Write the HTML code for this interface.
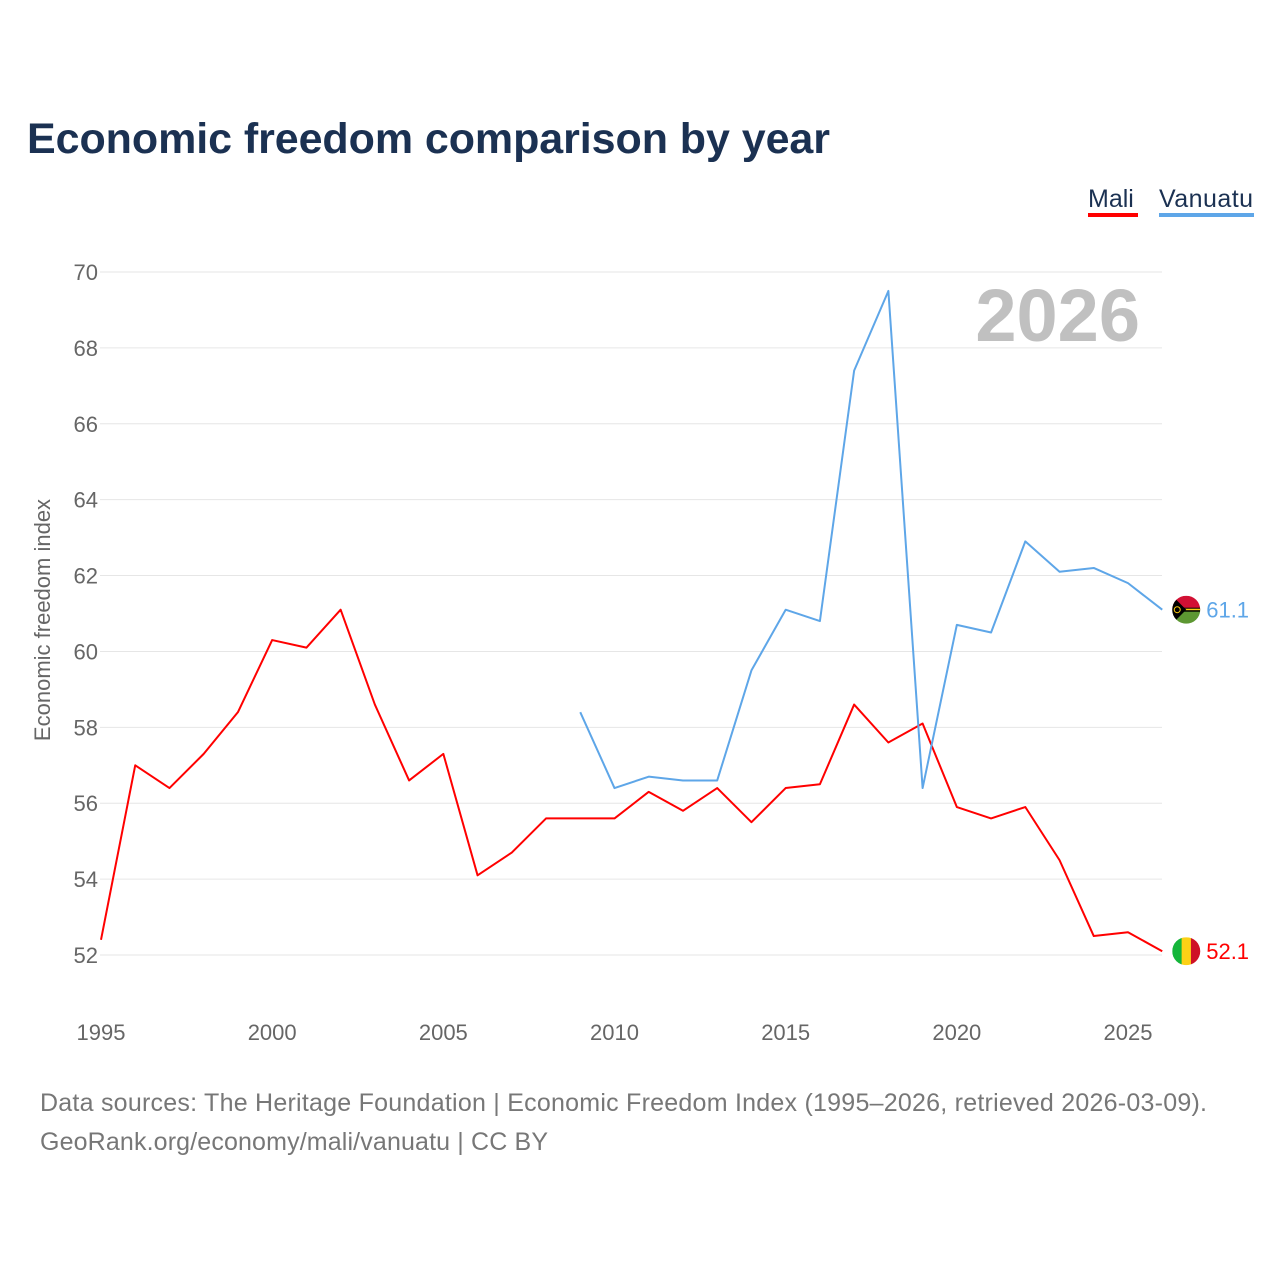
<!DOCTYPE html>
<html><head><meta charset="utf-8"><style>
body{margin:0;background:#fff;font-family:"Liberation Sans",sans-serif;}
svg text{font-family:"Liberation Sans",sans-serif;}
</style></head><body>
<svg id="chart" width="1280" height="1280" viewBox="0 0 1280 1280" xmlns="http://www.w3.org/2000/svg">
<rect width="1280" height="1280" fill="#fff"/>
<text x="27" y="153" font-size="43" font-weight="bold" fill="#1b3152" textLength="803">Economic freedom comparison by year</text>
<g>
<text x="1088" y="207" font-size="25" fill="#1b3152">Mali</text>
<rect x="1088" y="213" width="50" height="4" fill="#f00"/>
<text x="1159" y="207" font-size="25" fill="#1b3152" textLength="94">Vanuatu</text>
<rect x="1159" y="213" width="95" height="4" fill="#5ea6e8"/>
</g>
<text x="1140" y="341" font-size="74" font-weight="bold" fill="#c0c0c0" text-anchor="end">2026</text>
<text transform="translate(50,620) rotate(-90)" font-size="22" fill="#666" text-anchor="middle">Economic freedom index</text>
<g id="grid"></g><g id="yticks"></g><g id="xticks"></g><g id="series"></g>
<text x="40" y="1111" font-size="25" fill="#777" textLength="1167">Data sources: The Heritage Foundation | Economic Freedom Index (1995–2026, retrieved 2026-03-09).</text>
<text x="40" y="1150" font-size="25" fill="#777" textLength="508">GeoRank.org/economy/mali/vanuatu | CC BY</text>
</svg>
<script>
const yTicks=[52,54,56,58,60,62,64,66,68,70];
const xTicks=[1995,2000,2005,2010,2015,2020,2025];
const maliYears=[1995,1996,1997,1998,1999,2000,2001,2002,2003,2004,2005,2006,2007,2008,2009,2010,2011,2012,2013,2014,2015,2016,2017,2018,2019,2020,2021,2022,2023,2024,2025,2026];
const maliValues=[52.4,57.0,56.4,57.3,58.4,60.3,60.1,61.1,58.6,56.6,57.3,54.1,54.7,55.6,55.6,55.6,56.3,55.8,56.4,55.5,56.4,56.5,58.6,57.6,58.1,55.9,55.6,55.9,54.5,52.5,52.6,52.1];
const vanuatuYears=[2009,2010,2011,2012,2013,2014,2015,2016,2017,2018,2019,2020,2021,2022,2023,2024,2025,2026];
const vanuatuValues=[58.4,56.4,56.7,56.6,56.6,59.5,61.1,60.8,67.4,69.5,56.4,60.7,60.5,62.9,62.1,62.2,61.8,61.1];
const NS="http://www.w3.org/2000/svg";
const x=yr=>101+(yr-1995)*(1128-101)/30;
const y=v=>955-(v-52)*(955-272)/18;
function mk(tag,attrs,parent){const e=document.createElementNS(NS,tag);for(const k in attrs)e.setAttribute(k,attrs[k]);document.getElementById(parent).appendChild(e);return e;}
yTicks.forEach(t=>{
 const l=mk('line',{x1:100,x2:1162,y1:y(t),y2:y(t),stroke:'#e6e6e6','stroke-width':1},'grid');
 
 
 const tx=mk('text',{x:98,y:y(t)+8,'font-size':22,fill:'#666','text-anchor':'end'},'yticks');
 tx.textContent=t;
 
 
});
xTicks.forEach(t=>{
 const tx=mk('text',{x:x(t),y:1040,'font-size':22,fill:'#666','text-anchor':'middle'},'xticks');
 tx.textContent=t;
 
 
});
function line(years,vals,color,name){
 const p=mk('polyline',{points:years.map((yr,i)=>x(yr)+','+y(vals[i])).join(' '),fill:'none',stroke:color,'stroke-width':2,'stroke-linejoin':'round'},'series');
 
 
 const lx=x(years[years.length-1]),ly=y(vals[vals.length-1]);
 const lab=mk('text',{x:lx+44,y:ly+8,'font-size':22,fill:color},'series');
 lab.textContent=vals[vals.length-1].toFixed(1);
 
 
 return [lx+24,ly];
}
const [mx,my]=line(maliYears,maliValues,'#ff0000','mali');
const [vx,vy]=line(vanuatuYears,vanuatuValues,'#5ea6e8','vanuatu');
const mf=mk('g',{},'series');


mf.innerHTML=`<clipPath id="cm"><circle cx="${mx}" cy="${my}" r="14"/></clipPath><g clip-path="url(#cm)"><rect x="${mx-14}" y="${my-14}" width="10" height="28" fill="#14b53a"/><rect x="${mx-4.6}" y="${my-14}" width="9.4" height="28" fill="#fcd116"/><rect x="${mx+4.7}" y="${my-14}" width="10" height="28" fill="#ce1126"/></g>`;
const vf=mk('g',{},'series');


vf.innerHTML=`<clipPath id="cv"><circle cx="${vx}" cy="${vy}" r="14"/></clipPath><g clip-path="url(#cv)"><rect x="${vx-14}" y="${vy-14}" width="28" height="14" fill="#d21034"/><rect x="${vx-14}" y="${vy}" width="28" height="14" fill="#5d9732"/><rect x="${vx-14}" y="${vy-2}" width="28" height="4" fill="#000"/><rect x="${vx-14}" y="${vy-1}" width="28" height="1.5" fill="#fdce12"/><polygon points="${vx-14},${vy-14} ${vx},${vy} ${vx-14},${vy+14}" fill="#000"/><circle cx="${vx-9}" cy="${vy}" r="3" fill="none" stroke="#fdce12" stroke-width="1"/></g>`;
</script>
</body></html>
